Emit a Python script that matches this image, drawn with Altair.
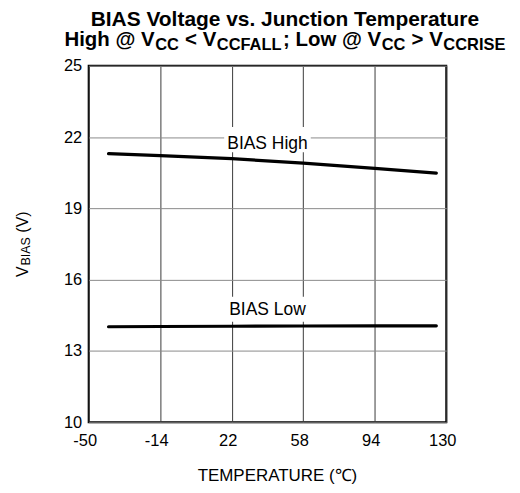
import altair as alt
import pandas as pd

# ---- data ----
temps_high = [-40, -14, 22, 58, 94, 125]
vbias_high = [21.30, 21.22, 21.09, 20.90, 20.68, 20.48]
temps_low = [-40, -14, 22, 58, 94, 125]
vbias_low = [14.02, 14.03, 14.04, 14.05, 14.06, 14.06]
x_ticks = [-50, -14, 22, 58, 94, 130]
y_ticks = [10, 13, 16, 19, 22, 25]
label_text = ["BIAS High", "BIAS Low"]
label_x = [40, 40]
label_y = [21.48, 14.50]
box_x = [18.2, 18.2]
box_x2 = [61.8, 61.8]
box_y = [21.36, 14.23]
box_y2 = [22.42, 15.28]

FONT = "Liberation Sans, Arial, Helvetica, sans-serif"
W, H = 359, 358

lines_df = pd.DataFrame({
    "T": temps_high + temps_low,
    "V": vbias_high + vbias_low,
    "series": ["High"] * len(temps_high) + ["Low"] * len(temps_low),
})
labels_df = pd.DataFrame({"t": label_text, "x": label_x, "y": label_y})
boxes_df = pd.DataFrame({"x": box_x, "x2": box_x2, "y": box_y, "y2": box_y2})

xscale = alt.Scale(domain=[-50, 130], nice=False, zero=False)
yscale = alt.Scale(domain=[10, 25], nice=False, zero=False)

xaxis = alt.Axis(values=x_ticks, grid=True, gridColor="#3a3a3a", gridWidth=1,
                 domain=False, ticks=False, labelFontSize=16.5, labelFont=FONT,
                 labelColor="black", labelPadding=10, labelFlush=False,
                 labelOverlap=False, labelOffset=-4, labelExpr="'' + datum.value",
                 title=None)
yaxis = alt.Axis(values=y_ticks, grid=True, gridColor="#8a8a8a", gridWidth=1,
                 domain=False, ticks=False, labelFontSize=16.5, labelFont=FONT,
                 labelColor="black", labelPadding=7, labelFlush=False,
                 labelOverlap=False, labelExpr="'' + datum.value", title=None)

boxes = alt.Chart(boxes_df).mark_rect(color="white").encode(
    x=alt.X("x:Q", scale=xscale, axis=xaxis),
    x2="x2:Q",
    y=alt.Y("y:Q", scale=yscale, axis=yaxis),
    y2="y2:Q",
)

lines = alt.Chart(lines_df).mark_line(color="black", strokeWidth=3.2, strokeCap="round").encode(
    x=alt.X("T:Q", scale=xscale, axis=xaxis),
    y=alt.Y("V:Q", scale=yscale, axis=yaxis),
    detail="series:N",
)

labels = alt.Chart(labels_df).mark_text(
    font=FONT, fontSize=17.5, color="black", align="center", baseline="alphabetic"
).encode(
    x=alt.X("x:Q", scale=xscale),
    y=alt.Y("y:Q", scale=yscale),
    text="t:N",
)

# ---- composed texts (titles with subscripts) ----
bold_w = {'H': 722, 'i': 278, 'g': 611, 'h': 611, ' ': 278, '@': 975, 'V': 667, 'C': 722,
          '<': 584, 'F': 611, 'A': 722, 'L': 611, ';': 333, 'o': 611, 'w': 778, '>': 584,
          'R': 722, 'I': 278, 'S': 667, 'E': 667}
reg_w = {'V': 667, 'B': 667, 'I': 278, 'A': 667, 'S': 667, ' ': 278, '(': 333, ')': 333}


def text_width(s, size, table):
    return sum(table.get(c, 600) for c in s) * size / 1000.0


def seg(text, x, y, size, bold=False, align="left", angle=0):
    kw = dict(font=FONT, fontSize=size, color="black", align=align,
              baseline="alphabetic", x=x, y=y)
    if bold:
        kw["fontWeight"] = "bold"
    if angle:
        kw["angle"] = angle
    return alt.Chart(pd.DataFrame({"t": [text]})).mark_text(**kw).encode(text="t:N")


layers = [boxes, lines, labels]

# Title line 1
CENTER = 197
layers.append(seg("BIAS Voltage vs. Junction Temperature", CENTER, -40, 21, bold=True, align="center"))

# Title line 2 with subscripts (leading spaces become position advances)
M, S = 20.5, 16.5
GAP = 0.5
parts = [("High @ V", False), ("CC", True), (" < V", False), ("CCFALL", True),
         ("; Low @ V", False), ("CC", True), (" > V", False), ("CCRISE", True)]
total = sum(text_width(t, S if sub else M, bold_w) for t, sub in parts) + GAP * (len(parts) - 1)
cx = CENTER - total / 2
for t, sub in parts:
    size = S if sub else M
    stripped = t.lstrip(" ")
    lead = text_width(t[:len(t) - len(stripped)], size, bold_w)
    layers.append(seg(stripped, cx + lead, -16 if sub else -20, size, bold=True))
    cx += text_width(t, size, bold_w) + GAP

# Y axis title, rotated: V_BIAS (V)
YM, YS = 16, 12.5
ybase_x = -61
ypos = 212
layers.append(seg("V", ybase_x, ypos, YM, angle=270))
ypos -= text_width("V", YM, reg_w) + 0.8
layers.append(seg("BIAS", ybase_x + 2, ypos, YS, angle=270))
ypos -= text_width("BIAS", YS, reg_w) + text_width(" ", YM, reg_w)
layers.append(seg("(V)", ybase_x, ypos, YM, angle=270))

# X axis title
layers.append(seg("TEMPERATURE (\u2103)", 189.5, 417, 17, align="center"))

chart = alt.layer(*layers).properties(
    width=W, height=H,
    autosize=alt.AutoSizeParams(type="none"),
    padding={"left": 81, "top": 57, "right": 66, "bottom": 62},
    background="white",
).configure_view(stroke="black", strokeWidth=2)

chart.save("out.html", embed_options={"renderer": "svg", "actions": False})
